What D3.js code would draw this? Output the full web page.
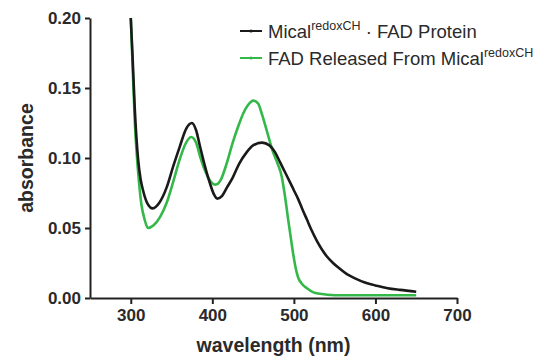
<!DOCTYPE html>
<html><head><meta charset="utf-8">
<script src="https://cdn.jsdelivr.net/npm/d3@7"></script>
<style>body{margin:0;background:#fff}svg{display:block;font-family:"Liberation Sans",Arial,sans-serif}</style>
</head><body><svg id="c" width="554" height="360"></svg>
<script>
const blackWl = [300,302,305,309,312,315,320,327,335,344,352,360,368,375,380,385,391,397,402,406,412,418,425,433,442,450,461,470,477,483,489,495,500,505,510,516,522,528,534,540,548,556,565,575,587,600,615,630,650];
const blackAbs = [0.200,0.175,0.134,0.099,0.085,0.077,0.068,0.064,0.068,0.079,0.094,0.108,0.121,0.125,0.120,0.108,0.094,0.082,0.074,0.071,0.073,0.079,0.086,0.096,0.104,0.109,0.111,0.109,0.104,0.097,0.090,0.083,0.077,0.071,0.064,0.056,0.048,0.041,0.035,0.030,0.025,0.021,0.017,0.014,0.011,0.009,0.007,0.0058,0.0045];
const greenWl = [300,302,305,309,313,317,321,328,336,344,352,360,367,374,380,385,391,397,404,410,417,425,432,438,444,450,456,461,467,474,480,485,489,493,496,499,502,505,510,516,524,532,550,600,650];
const greenAbs = [0.200,0.170,0.125,0.090,0.067,0.056,0.050,0.052,0.058,0.068,0.083,0.099,0.110,0.115,0.111,0.101,0.091,0.084,0.081,0.084,0.095,0.111,0.123,0.132,0.138,0.141,0.139,0.131,0.119,0.105,0.096,0.087,0.073,0.056,0.044,0.032,0.022,0.015,0.010,0.007,0.004,0.003,0.002,0.002,0.002];
const xTicks = [300,400,500,600,700];
const yTicks = [0,0.05,0.10,0.15,0.20];
const seriesNames = ["Mical", "FAD Released From Mical"];
const seriesColors = ["#1a1a1a", "#34b84a"];

const svg = d3.select("#c");
const W = 554, H = 360;
const m = {l:90, r:97, t:18, b:62};
const x = d3.scaleLinear().domain([250,700]).range([m.l, W-m.r]);
const y = d3.scaleLinear().domain([0,0.20]).range([H-m.b, m.t]);

const line = d3.line().x(d=>x(d[0])).y(d=>y(d[1])).curve(d3.curveMonotoneX);
const greenData = greenWl.map((w,i)=>[w,greenAbs[i]]);
const blackData = blackWl.map((w,i)=>[w,blackAbs[i]]);

svg.append("path").datum(greenData).attr("d",line).attr("fill","none")
  .attr("stroke",seriesColors[1]).attr("stroke-width",2.6).attr("stroke-linejoin","round");
svg.append("path").datum(blackData).attr("d",line).attr("fill","none")
  .attr("stroke",seriesColors[0]).attr("stroke-width",2.6).attr("stroke-linejoin","round");

// axes
const xAxis = svg.append("g").attr("transform",`translate(0,${H-m.b})`)
  .call(d3.axisBottom(x).tickValues(xTicks).tickSize(6).tickSizeOuter(0).tickPadding(5).tickFormat(d3.format("d")));
const yAxis = svg.append("g").attr("transform",`translate(${m.l},0)`)
  .call(d3.axisLeft(y).tickValues(yTicks).tickSize(5).tickSizeOuter(0).tickPadding(4).tickFormat(d3.format(".2f")));
[xAxis,yAxis].forEach(g=>{
  g.select(".domain").attr("stroke","#222").attr("stroke-width",2);
  g.selectAll(".tick line").attr("stroke","#222").attr("stroke-width",2);
  g.selectAll(".tick text").attr("fill","#2a2a2a").attr("font-size",17).attr("font-weight","bold")
    .attr("font-family","'Liberation Sans',Arial,sans-serif");
});

svg.append("text").attr("x",(m.l+W-m.r)/2).attr("y",352).attr("text-anchor","middle")
  .attr("font-size",19.5).attr("font-weight","bold").attr("fill","#2a2a2a").text("wavelength (nm)");
svg.append("text").attr("transform",`translate(33,${(m.t+H-m.b)/2}) rotate(-90)`).attr("text-anchor","middle")
  .attr("font-size",19.5).attr("font-weight","bold").attr("fill","#2a2a2a").text("absorbance");

// legend
const lg = svg.append("g");
const rows = [{y:31, c:seriesColors[0]},{y:58, c:seriesColors[1]}];
rows.forEach(r=>{
  lg.append("line").attr("x1",240).attr("x2",262).attr("y1",r.y).attr("y2",r.y).attr("stroke",r.c).attr("stroke-width",2);
  lg.append("circle").attr("cx",251).attr("cy",r.y).attr("r",1.6).attr("fill",r.c);
});
const t1 = lg.append("text").attr("x",268).attr("y",38).attr("font-size",18.5).attr("fill","#2a2a2a");
t1.append("tspan").text(seriesNames[0]);
t1.append("tspan").attr("font-size",12.5).attr("dy",-8).text("redoxCH");
t1.append("tspan").attr("dy",8).text(" \u00b7 FAD Protein");
const t2 = lg.append("text").attr("x",268).attr("y",65).attr("font-size",18.5).attr("fill","#2a2a2a");
t2.append("tspan").text(seriesNames[1]);
t2.append("tspan").attr("font-size",12.5).attr("dy",-8).text("redoxCH");
</script></body></html>
